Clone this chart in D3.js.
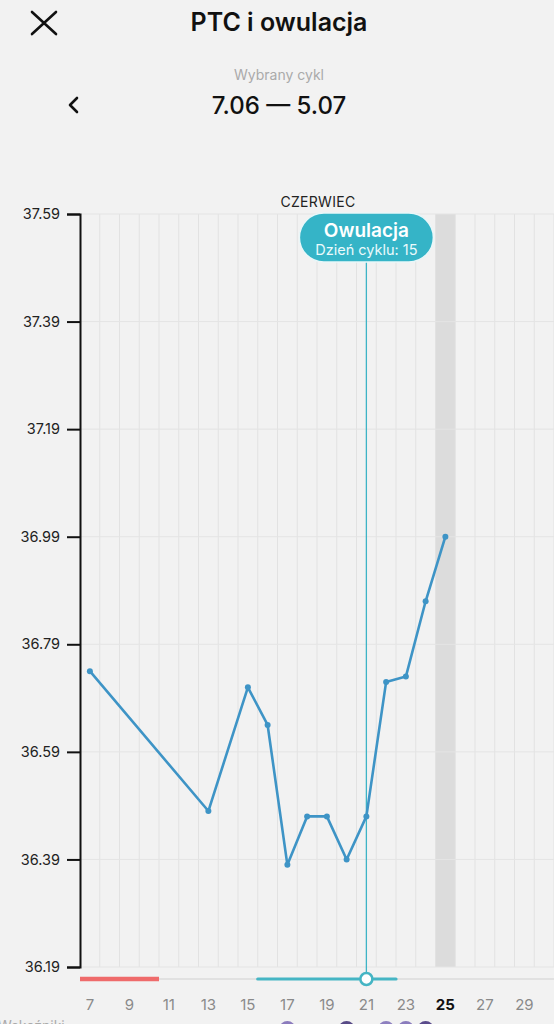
<!DOCTYPE html>
<html><head><meta charset="utf-8">
<script src="https://cdn.jsdelivr.net/npm/d3@7"></script>
<style>
html,body{margin:0;padding:0;background:#f2f2f2;overflow:hidden;}
svg{display:block;font-family:"Inter","Roboto",sans-serif;}
</style></head>
<body>
<svg id="c" width="554" height="1024"></svg>
<script>
// ---- data ----
const title = "PTC i owulacja";
const subtitle = "Wybrany cykl";
const cycleRange = "7.06 — 5.07";
const monthLabel = "CZERWIEC";
const days = [7, 13, 15, 16, 17, 18, 19, 20, 21, 22, 23, 24, 25];
const temps = [36.74, 36.48, 36.71, 36.64, 36.38, 36.47, 36.47, 36.39, 36.47, 36.72, 36.73, 36.87, 36.99];
const yTicks = [36.19, 36.39, 36.59, 36.79, 36.99, 37.19, 37.39, 37.59];
const xTicks = [7, 9, 11, 13, 15, 17, 19, 21, 23, 25, 27, 29];
const todayDay = 25;
const ovulationDay = 21;
const ovulationCycleDay = 15;
const periodDays = [7, 10];
const fertileDays = [16, 22];
const markerDays = [17, 20, 22, 23, 24];
const markerColors = ["#8b7bbd", "#574a86", "#8e80c0", "#8a7cbd", "#5a4b8c"];

// ---- layout ----
const svg = d3.select("#c");
const pL = 80, pR = 554, pT = 214, pB = 967;
const x = d3.scaleLinear().domain([6.5, 30.5]).range([pL, pR]);
const y = d3.scaleLinear().domain([36.19, 37.59]).range([pB, pT]);

// header
svg.append("path").attr("d", "M32,12 L56,34 M56,12 L32,34")
  .attr("stroke", "#111").attr("stroke-width", 2.6).attr("stroke-linecap", "round").attr("fill", "none");
svg.append("text").attr("x", 279).attr("y", 31).attr("text-anchor", "middle")
  .attr("font-size", 25).attr("font-weight", 600).attr("fill", "#111").text(title);
svg.append("text").attr("x", 279).attr("y", 80).attr("text-anchor", "middle")
  .attr("font-size", 14).attr("fill", "#aaa").text(subtitle);
svg.append("path").attr("d", "M77,98 L70,105 L77,112")
  .attr("stroke", "#111").attr("stroke-width", 2.6).attr("stroke-linecap", "round").attr("stroke-linejoin","round").attr("fill", "none");
svg.append("text").attr("x", 279).attr("y", 114).attr("text-anchor", "middle")
  .attr("font-size", 24).attr("font-weight", 500).attr("fill", "#111").text(cycleRange);

// month label
svg.append("text").attr("x", 318).attr("y", 207).attr("text-anchor", "middle")
  .attr("font-size", 14).attr("fill", "#222").attr("letter-spacing", 0.3).text(monthLabel);

// today band
svg.append("rect").attr("x", x(todayDay - 0.5)).attr("y", pT)
  .attr("width", x(todayDay + 0.5) - x(todayDay - 0.5)).attr("height", pB - pT).attr("fill", "#dcdcdc");

// vertical grid (day boundaries)
const gridDays = d3.range(7.5, 30.6, 1);
svg.append("g").selectAll("line").data(gridDays).join("line")
  .attr("x1", d => x(d)).attr("x2", d => x(d)).attr("y1", pT).attr("y2", pB)
  .attr("stroke", "#e2e2e2").attr("stroke-width", 1);

// horizontal grid
svg.append("g").selectAll("line").data(yTicks).join("line")
  .attr("x1", pL).attr("x2", pR).attr("y1", d => y(d)).attr("y2", d => y(d))
  .attr("stroke", "#e4e4e4").attr("stroke-width", 1);

// y axis
const yAxis = d3.axisLeft(y).tickValues(yTicks).tickFormat(d3.format(".2f")).tickSize(13).tickPadding(7).tickSizeOuter(13);
const ga = svg.append("g").attr("transform", `translate(${pL},0)`).call(yAxis);
ga.select(".domain").attr("stroke", "#111").attr("stroke-width", 2);
ga.selectAll(".tick line").attr("stroke", "#111").attr("stroke-width", 2);
ga.selectAll(".tick text").attr("font-size", 14.5).attr("fill", "#222").attr("font-family", "Inter, Roboto, sans-serif");

// ovulation line
svg.append("line").attr("x1", x(ovulationDay)).attr("x2", x(ovulationDay))
  .attr("y1", 255).attr("y2", 978).attr("stroke", "#3db4c6").attr("stroke-width", 1.3);

// temperature line
const pts = days.map((d, i) => [d, temps[i]]);
svg.append("path").datum(pts)
  .attr("d", d3.line().x(d => x(d[0])).y(d => y(d[1])))
  .attr("fill", "none").attr("stroke", "#3e94c6").attr("stroke-width", 2.6).attr("stroke-linejoin", "round");
svg.append("g").selectAll("circle").data(pts).join("circle")
  .attr("cx", d => x(d[0])).attr("cy", d => y(d[1])).attr("r", 3).attr("fill", "#3e94c6");

// tooltip
const tcx = x(ovulationDay);
svg.append("rect").attr("x", tcx - 67).attr("y", 213).attr("width", 134).attr("height", 49)
  .attr("rx", 24.5).attr("fill", "#35b4c7").attr("stroke", "#e9f7f9").attr("stroke-width", 1.5);
svg.append("text").attr("x", tcx).attr("y", 237).attr("text-anchor", "middle")
  .attr("font-size", 19).attr("font-weight", 600).attr("fill", "#fff").text("Owulacja");
svg.append("text").attr("x", tcx).attr("y", 255).attr("text-anchor", "middle")
  .attr("font-size", 14.5).attr("fill", "#eafafc").text("Dzień cyklu: " + ovulationCycleDay);

// timeline
const ty = 979;
svg.append("line").attr("x1", pL).attr("x2", pR).attr("y1", ty).attr("y2", ty)
  .attr("stroke", "#cfcfcf").attr("stroke-width", 1.2);
svg.append("line").attr("x1", x(periodDays[0] - 0.5)).attr("x2", x(periodDays[1] + 0.5)).attr("y1", ty).attr("y2", ty)
  .attr("stroke", "#ef6b6b").attr("stroke-width", 4.5);
svg.append("line").attr("x1", x(fertileDays[0] - 0.5)).attr("x2", x(fertileDays[1] + 0.5)).attr("y1", ty).attr("y2", ty)
  .attr("stroke", "#45b5c4").attr("stroke-width", 3.2).attr("stroke-linecap", "round");
svg.append("circle").attr("cx", x(ovulationDay)).attr("cy", ty).attr("r", 6)
  .attr("fill", "#fff").attr("stroke", "#45b5c4").attr("stroke-width", 2.5);

// x tick labels
svg.append("g").selectAll("text").data(xTicks).join("text")
  .attr("x", d => x(d)).attr("y", 1010).attr("text-anchor", "middle")
  .attr("font-size", 15)
  .attr("font-weight", d => d === todayDay ? 700 : 400)
  .attr("fill", d => d === todayDay ? "#111" : "#8a8a8a")
  .text(d => d);

// bottom partial row (cut off by the window edge, as in the reference)
svg.append("text").attr("x", -2).attr("y", 1031).attr("font-size", 14).attr("fill", "#aaa").text("Wskaźniki");
svg.append("g").selectAll("circle").data(markerDays).join("circle")
  .attr("cx", d => x(d)).attr("cy", 1029).attr("r", 8)
  .attr("fill", (d, i) => markerColors[i]);
</script>
</body></html>
